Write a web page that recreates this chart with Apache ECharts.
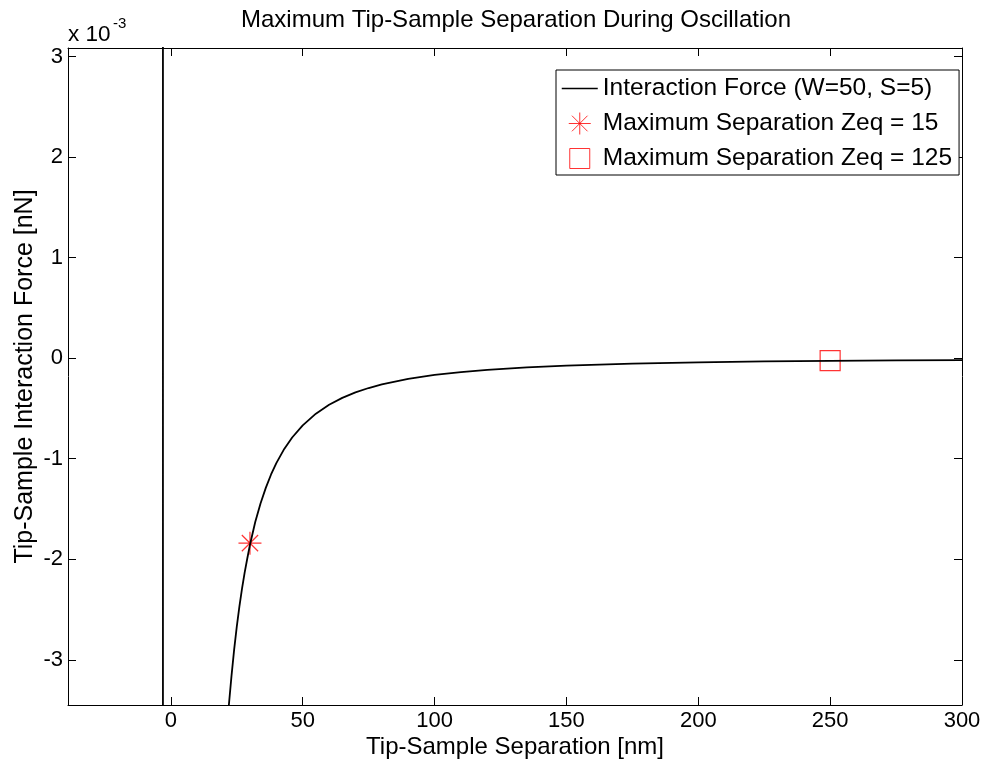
<!DOCTYPE html>
<html>
<head>
<meta charset="utf-8">
<script src="https://cdn.jsdelivr.net/npm/echarts@6/dist/echarts.min.js"></script>
<style>html,body{margin:0;padding:0;background:#fff}#c{width:985px;height:763px}</style>
</head>
<body>
<div id="c"></div>
<script>
// Data (y in units of 1e-3 nN)
const curveX = [-3, -3, 15, 18, 20, 21, 22, 23, 24, 25, 26, 27, 28, 29, 30, 32, 34, 36, 38, 40, 43, 46, 50, 55, 60, 65, 70, 75, 80, 90, 100, 110, 120, 135, 150, 175, 200, 225, 250, 275, 300];
const curveY = [50, -50, -7.42, -5.15, -4.18, -3.79, -3.45, -3.16, -2.90, -2.67, -2.47, -2.29, -2.13, -1.99, -1.856, -1.63, -1.445, -1.29, -1.157, -1.044, -0.903, -0.789, -0.668, -0.552, -0.464, -0.395, -0.341, -0.297, -0.261, -0.206, -0.167, -0.138, -0.116, -0.092, -0.074, -0.055, -0.042, -0.033, -0.027, -0.022, -0.019];
const starPoint = [30, -1.84];
const squarePoint = [250, -0.025];
const xTicks = [0, 50, 100, 150, 200, 250, 300];
const yTicks = [-3, -2, -1, 0, 1, 2, 3];
const seriesNames = ['Interaction Force (W=50, S=5)', 'Maximum Separation Zeq = 15', 'Maximum Separation Zeq = 125'];

const FONT = 'Liberation Sans, Arial, sans-serif';
const starPath = 'path://M0 5L10 5M5 0L5 10M1.46 1.46L8.54 8.54M8.54 1.46L1.46 8.54';
const legendLine = 'path://M0 0L0 0.01M36 22L36 21.99M0 11L36 11';
const legendStar = 'path://M0 11L22 11M11 0L11 22M3.2 3.2L18.8 18.8M18.8 3.2L3.2 18.8';
const legendSquare = 'path://M0 0L0 0.01M22 22L22 21.99M1 1L21 1L21 21L1 21Z';

const chart = echarts.init(document.getElementById('c'));
const xr = {min: -39, max: 300};
const yr = {min: -3.45, max: 3.085};
const tickCommon = {show: true, inside: true, length: 8, lineStyle: {color: '#000', width: 1}};
chart.setOption({
  animation: false,
  backgroundColor: '#fff',
  textStyle: {fontFamily: FONT},
  title: {
    text: 'Maximum Tip-Sample Separation During Oscillation',
    left: 511, top: 3, textAlign: 'center',
    textStyle: {fontSize: 24, fontWeight: 'normal', color: '#000', fontFamily: FONT}
  },
  grid: {left: 68, right: 23, top: 48, bottom: 58, containLabel: false, outerBoundsMode: 'none'},
  legend: {
    orient: 'vertical', left: 556, top: 70,
    borderColor: '#000', borderWidth: 1, backgroundColor: '#fff',
    padding: [6, 7, 4, 5], itemGap: 10, itemWidth: 36, itemHeight: 22,
    symbolKeepAspect: true,
    textStyle: {fontSize: 24.5, lineHeight: 24, color: '#000', fontFamily: FONT},
    data: [
      {name: seriesNames[0], icon: legendLine, itemStyle: {color: 'transparent', borderColor: '#000', borderWidth: 1.5}},
      {name: seriesNames[1], icon: legendStar, itemStyle: {color: 'transparent', borderColor: '#ff0000', borderWidth: 1}},
      {name: seriesNames[2], icon: legendSquare, itemStyle: {color: 'transparent', borderColor: '#ff0000', borderWidth: 1}}
    ]
  },
  graphic: [{
    type: 'text', x: 68, y: 35,
    style: {text: 'x 10', fontSize: 22.5, fontFamily: FONT, fill: '#000', verticalAlign: 'middle', align: 'left'}
  }, {
    type: 'text', x: 113, y: 23.5,
    style: {text: '-3', fontSize: 15, fontFamily: FONT, fill: '#000', verticalAlign: 'middle', align: 'left'}
  }],
  xAxis: [{
    type: 'value', ...xr, position: 'bottom',
    name: 'Tip-Sample Separation [nm]', nameLocation: 'middle', nameGap: 30, nameMoveOverlap: false,
    nameTextStyle: {fontSize: 24, color: '#000', fontFamily: FONT},
    axisLine: {show: true, onZero: false, lineStyle: {color: '#000', width: 1}},
    axisTick: {...tickCommon, customValues: xTicks},
    axisLabel: {customValues: xTicks, fontSize: 22, color: '#000', margin: 5, fontFamily: FONT},
    splitLine: {show: false}
  }, {
    type: 'value', ...xr, position: 'top',
    axisLine: {show: true, onZero: false, lineStyle: {color: '#000', width: 1}},
    axisTick: {...tickCommon, customValues: xTicks},
    axisLabel: {show: false, customValues: xTicks},
    splitLine: {show: false}
  }],
  yAxis: [{
    type: 'value', ...yr, position: 'left',
    name: 'Tip-Sample Interaction Force [nN]', nameLocation: 'middle', nameGap: 30, nameMoveOverlap: false,
    nameTextStyle: {fontSize: 25, color: '#000', fontFamily: FONT},
    axisLine: {show: true, onZero: false, lineStyle: {color: '#000', width: 1}},
    axisTick: {...tickCommon, customValues: yTicks},
    axisLabel: {customValues: yTicks, fontSize: 22, color: '#000', margin: 5, fontFamily: FONT},
    splitLine: {show: false}
  }, {
    type: 'value', ...yr, position: 'right',
    axisLine: {show: true, onZero: false, lineStyle: {color: '#000', width: 1}},
    axisTick: {...tickCommon, customValues: yTicks},
    axisLabel: {show: false, customValues: yTicks},
    splitLine: {show: false}
  }],
  series: [{
    name: seriesNames[0], type: 'line', xAxisIndex: 0, yAxisIndex: 0,
    data: curveX.map((x, i) => [x, curveY[i]]),
    symbol: 'none', smooth: false, clip: true,
    lineStyle: {color: '#000', width: 1.8},
    itemStyle: {color: '#000'}
  }, {
    name: seriesNames[1], type: 'scatter', xAxisIndex: 0, yAxisIndex: 0,
    data: [starPoint], symbol: starPath, symbolSize: 23,
    itemStyle: {color: 'transparent', borderColor: '#ff0000', borderWidth: 1.2}
  }, {
    name: seriesNames[2], type: 'scatter', xAxisIndex: 0, yAxisIndex: 0,
    data: [squarePoint], symbol: 'rect', symbolSize: 20,
    itemStyle: {color: 'transparent', borderColor: '#ff0000', borderWidth: 1.2}
  }]
});
</script>
</body>
</html>
